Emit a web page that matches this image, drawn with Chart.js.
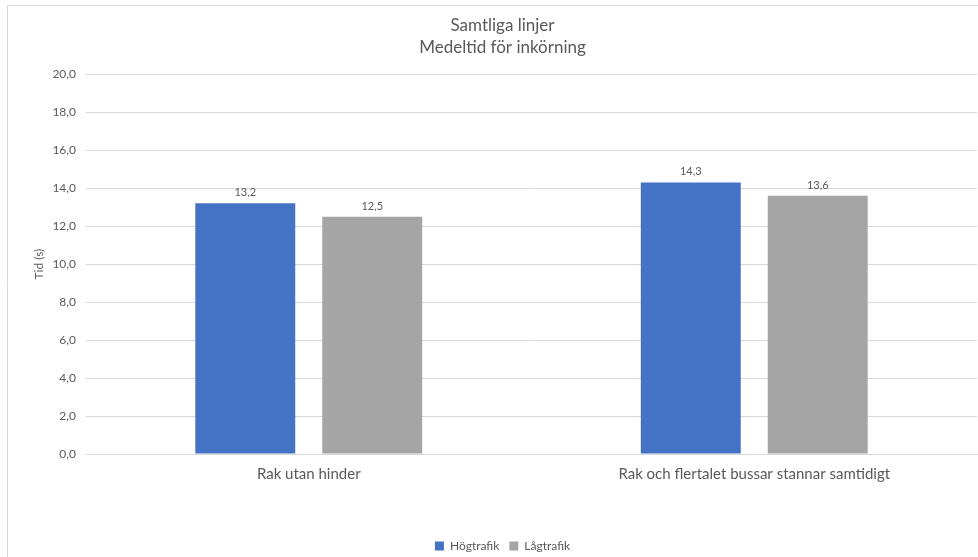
<!DOCTYPE html>
<html>
<head>
<meta charset="utf-8">
<script src="https://cdn.jsdelivr.net/npm/chart.js@4.4.1/dist/chart.umd.min.js"></script>
<style>
  html, body { margin: 0; padding: 0; background: #ffffff; }
  #wrap { position: relative; width: 978px; height: 557px; }
</style>
</head>
<body>
<div id="wrap"><canvas id="chart" width="978" height="557"></canvas></div>
<script>
// Average run-in time per scenario, seconds
const categories = ['Rak utan hinder', 'Rak och flertalet bussar stannar samtidigt'];
const hogtrafik = [13.2, 14.3];
const lagtrafik = [12.5, 13.6];
const seriesNames = ['Högtrafik', 'Lågtrafik'];
const titleLines = ['Samtliga linjer', 'Medeltid för inkörning'];
const yAxisTitle = 'Tid (s)';

const FONT = 'Lato, "Open Sans", sans-serif';
const TEXT = '#595959';

const fmt = v => v.toFixed(1).replace('.', ',');

// Light frame around the chart
const framePlugin = {
  id: 'frame',
  beforeDraw(chart) {
    const ctx = chart.ctx;
    ctx.save();
    ctx.strokeStyle = '#d9d9d9';
    ctx.lineWidth = 1;
    ctx.beginPath();
    ctx.moveTo(7.5, chart.height);
    ctx.lineTo(7.5, 5.5);
    ctx.lineTo(chart.width, 5.5);
    ctx.stroke();
    ctx.restore();
  }
};

// Value labels above each bar
const valueLabels = {
  id: 'valueLabels',
  afterDatasetsDraw(chart) {
    const ctx = chart.ctx;
    ctx.save();
    ctx.font = '11px ' + FONT;
    ctx.fillStyle = TEXT;
    ctx.textAlign = 'center';
    ctx.textBaseline = 'bottom';
    chart.data.datasets.forEach((ds, di) => {
      chart.getDatasetMeta(di).data.forEach((bar, i) => {
        ctx.fillText(fmt(ds.data[i]), bar.x, bar.y - 5);
      });
    });
    ctx.restore();
  }
};

new Chart(document.getElementById('chart'), {
  type: 'bar',
  data: {
    labels: categories,
    datasets: [
      { label: seriesNames[0], data: hogtrafik, backgroundColor: '#4472C4' },
      { label: seriesNames[1], data: lagtrafik, backgroundColor: '#A5A5A5' }
    ]
  },
  options: {
    responsive: false,
    animation: false,
    devicePixelRatio: 1,
    categoryPercentage: 0.57,
    barPercentage: 0.787,
    layout: { padding: { top: 8, right: 1, bottom: -5, left: 28 } },
    plugins: {
      title: {
        display: true,
        text: titleLines,
        color: TEXT,
        font: { family: FONT, size: 17, weight: 'normal', lineHeight: 1.3 },
        padding: { top: 6, bottom: 16 }
      },
      legend: {
        position: 'bottom',
        labels: {
          color: TEXT,
          font: { family: FONT, size: 12 },
          boxWidth: 9,
          boxHeight: 9,
          padding: 10
        }
      },
      tooltip: { enabled: false }
    },
    scales: {
      x: {
        grid: { display: false },
        border: { display: true, color: '#d9d9d9' },
        ticks: { color: TEXT, font: { family: FONT, size: 15 }, padding: 3 },
        afterFit(scale) { scale.height = 76; }
      },
      y: {
        min: 0,
        max: 20,
        grid: { color: '#d9d9d9', drawTicks: false },
        border: { display: false },
        ticks: {
          stepSize: 2,
          color: TEXT,
          font: { family: FONT, size: 12 },
          padding: 10,
          callback: v => fmt(v)
        },
        title: {
          display: true,
          text: yAxisTitle,
          color: TEXT,
          font: { family: FONT, size: 12 },
          padding: { top: 4, bottom: 0 }
        },
        afterFit(scale) { scale.width = 58; }
      }
    }
  },
  plugins: [framePlugin, valueLabels]
});
</script>
</body>
</html>
